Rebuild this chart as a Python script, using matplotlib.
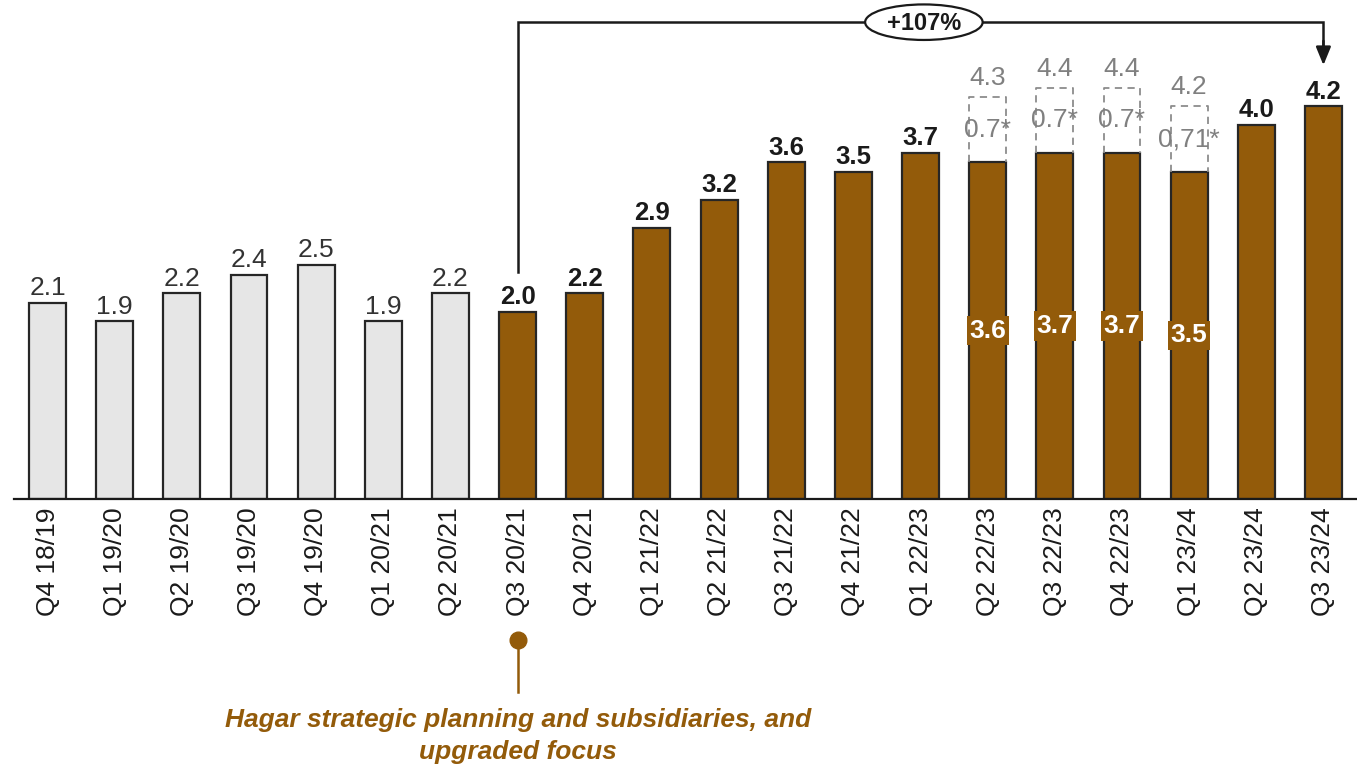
import matplotlib
matplotlib.use("Agg")
import matplotlib.pyplot as plt
from matplotlib.patches import Ellipse
import matplotlib.transforms as mtransforms

plt.rcParams['font.family'] = ['Liberation Sans', 'DejaVu Sans']

categories = ["Q4 18/19", "Q1 19/20", "Q2 19/20", "Q3 19/20", "Q4 19/20", "Q1 20/21",
              "Q2 20/21", "Q3 20/21", "Q4 20/21", "Q1 21/22", "Q2 21/22", "Q3 21/22",
              "Q4 21/22", "Q1 22/23", "Q2 22/23", "Q3 22/23", "Q4 22/23", "Q1 23/24",
              "Q2 23/24", "Q3 23/24"]
values = [2.1, 1.9, 2.2, 2.4, 2.5, 1.9, 2.2, 2.0, 2.2, 2.9, 3.2, 3.6, 3.5, 3.7,
          3.6, 3.7, 3.7, 3.5, 4.0, 4.2]
highlight_start = 7  # first brown bar
adj_idx = [14, 15, 16, 17]
adj_extra = [0.7, 0.7, 0.7, 0.7]
adj_extra_labels = ["0.7*", "0.7*", "0.7*", "0,71*"]
adj_total_labels = ["4.3", "4.4", "4.4", "4.2"]
growth_label = "+107%"
footnote = "Hagar strategic planning and subsidiaries, and\nupgraded focus"

BROWN = "#935B0A"
GRAY_FILL = "#E6E6E6"
EDGE = "#262626"
LIGHT_TXT = "#808080"

W, H = 1357, 768
fig = plt.figure(figsize=(W / 100, H / 100), dpi=100)
ax = fig.add_axes([14 / W, 269 / H, (1357 - 14) / W, (499 - 3.5) / H])
ax.set_xlim(-0.5, len(categories) - 0.5)
ax.set_ylim(0, 5.3)

x = list(range(len(categories)))
colors = [GRAY_FILL if i < highlight_start else BROWN for i in x]
ax.bar(x, values, width=0.55, color=colors, edgecolor=EDGE, linewidth=1.6, zorder=2)

# value labels
for i, v in enumerate(values):
    if i in adj_idx:
        continue
    if i < highlight_start:
        ax.annotate(f"{v:.1f}", (i, v), xytext=(0, 2), textcoords="offset points",
                    ha="center", va="bottom", fontsize=19, color="#333333")
    else:
        ax.annotate(f"{v:.1f}", (i, v), xytext=(0, 2), textcoords="offset points",
                    ha="center", va="bottom", fontsize=18.5, color="#1a1a1a",
                    fontweight="bold")

# adjusted bars: inner label, dashed box, extra, total
for k, i in enumerate(adj_idx):
    v = values[i]
    ax.text(i, v / 2, f"{v:.1f}", ha="center", va="center", fontsize=19,
            fontweight="bold", color="white", zorder=4,
            bbox=dict(boxstyle="square,pad=0.1", facecolor=BROWN, edgecolor="none"))
    top = v + adj_extra[k]
    xl, xr = i - 0.275, i + 0.275
    ax.plot([xl, xl, xr, xr], [v, top, top, v], ls=(0, (4, 3)), color="#8c8c8c",
            lw=1.3, zorder=3)
    ax.text(i, (v + top) / 2, adj_extra_labels[k], ha="center", va="center",
            fontsize=19, color=LIGHT_TXT, zorder=4)
    ax.annotate(adj_total_labels[k], (i, top), xytext=(0, 5), textcoords="offset points",
                ha="center", va="bottom", fontsize=19, color=LIGHT_TXT)

# growth bracket
y_top = 5.10
x0, x1 = highlight_start, len(categories) - 1
ax.plot([x0, x0, x1, x1], [2.43, y_top, y_top, 4.85], color="#1a1a1a", lw=1.8,
        zorder=3, clip_on=False, solid_joinstyle="miter")
ax.annotate("", xy=(x1, 4.64), xytext=(x1, 4.90),
            arrowprops=dict(arrowstyle="-|>,head_length=1.1,head_width=0.45",
                            color="#1a1a1a", lw=1.8, shrinkA=0, shrinkB=0),
            annotation_clip=False)
ax.add_patch(Ellipse((13.05, y_top), width=1.75, height=0.38, facecolor="white",
                     edgecolor="#1a1a1a", lw=1.6, zorder=4, clip_on=False))
ax.text(13.05, y_top - 0.01, growth_label, ha="center", va="center", fontsize=17,
        fontweight="bold", color="#1a1a1a", zorder=5)

# axis styling
for s in ["left", "right", "top"]:
    ax.spines[s].set_visible(False)
ax.spines["bottom"].set_linewidth(1.6)
ax.spines["bottom"].set_color("#1a1a1a")
ax.set_yticks([])
ax.set_xticks(x)
ax.set_xticklabels(categories, rotation=90, fontsize=19, color="#1a1a1a")
ax.tick_params(axis="x", length=0, pad=6)

# bottom annotation
trans = mtransforms.blended_transform_factory(ax.transData, fig.transFigure)
ax.plot([highlight_start, highlight_start], [1 - 640 / H, 1 - 692 / H], color=BROWN,
        lw=1.8, transform=trans, clip_on=False)
ax.plot([highlight_start], [1 - 640 / H], marker="o", markersize=12, color=BROWN,
        transform=trans, clip_on=False)
ax.text(highlight_start, 1 - 736 / H, footnote, transform=trans, ha="center",
        va="center", fontsize=19, fontweight="bold", fontstyle="italic",
        color=BROWN, linespacing=1.45)

fig.savefig("out.png", dpi=100)
